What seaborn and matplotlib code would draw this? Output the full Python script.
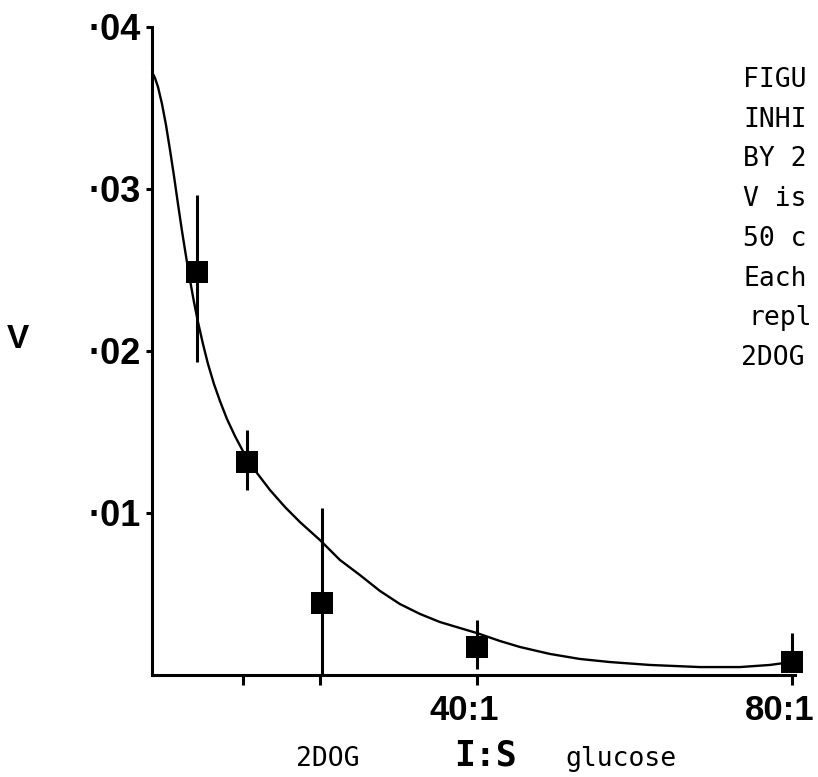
import matplotlib
matplotlib.use("Agg")
import matplotlib.pyplot as plt
import seaborn as sns
import pandas as pd

# Measured points (I:S ratio position, V) with asymmetric error bars
ratio = [5.6, 11.9, 21.25, 40.6, 80.0]
v_mean = [0.0249, 0.01315, 0.00444, 0.00173, 0.0008]
v_low = [0.0193, 0.0114, 0.0, 0.0004, 0.0002]
v_high = [0.0296, 0.0151, 0.0103, 0.0034, 0.0026]

# Hand-drawn fitted curve
curve_x = [0.0, 0.375, 0.75, 1.25, 1.75, 2.25, 2.75, 3.25, 3.75, 4.25, 4.75,
           5.25, 5.75, 6.375, 7.0, 7.75, 8.5, 9.375, 10.375, 11.625, 13.125,
           14.75, 16.625, 18.5, 21.0, 23.5, 26.0, 28.5, 31.0, 33.5, 36.0,
           38.5, 40.625, 43.5, 46.0, 49.75, 53.5, 57.25, 62.25, 68.5, 73.5,
           77.25, 80.0]
curve_y = [0.03722, 0.03685, 0.0363, 0.03525, 0.03395, 0.03241, 0.0308,
           0.02907, 0.02741, 0.02586, 0.02438, 0.02302, 0.02179, 0.02043,
           0.0192, 0.01796, 0.01691, 0.0158, 0.01475, 0.01358, 0.01247,
           0.01142, 0.01037, 0.00944, 0.00833, 0.0071, 0.00617, 0.00519,
           0.00438, 0.00377, 0.00327, 0.0029, 0.00259, 0.0021, 0.00173,
           0.0013, 0.00099, 0.0008, 0.00062, 0.00049, 0.00049, 0.00062,
           0.0008]

ytick_pos = [0.01, 0.02, 0.03, 0.04]
ytick_labels = ["·01", "·02", "·03", "·04"]
xtick_pos = [11.4, 21.0, 40.6, 80.0]
xtick_labels = ["", "", "40:1", "80:1"]

caption_lines = ["FIGU", "INHI", "BY 2", "V is", "50 c", "Each", "repl", "2DOG"]

sns.set_theme(style="ticks")
plt.rcParams["font.family"] = ["Liberation Sans", "DejaVu Sans"]
plt.rcParams["text.color"] = "black"
plt.rcParams["xtick.color"] = "black"
plt.rcParams["ytick.color"] = "black"

W, H = 818, 777
fig = plt.figure(figsize=(W / 100, H / 100), dpi=100)
fig.patch.set_facecolor("white")
ax = fig.add_axes([152 / W, 1 - 675 / H, (795 - 152) / W, (675 - 27) / H])
ax.set_facecolor("white")

df_curve = pd.DataFrame({"ratio": curve_x, "v": curve_y})
sns.lineplot(data=df_curve, x="ratio", y="v", sort=False, estimator=None,
             color="black", linewidth=1.7, ax=ax, clip_on=False,
             solid_joinstyle="round")

ax.vlines(ratio, v_low, v_high, color="black", linewidth=2.2, clip_on=False)

df_pts = pd.DataFrame({"ratio": ratio, "v": v_mean})
sns.scatterplot(data=df_pts, x="ratio", y="v", marker="s", s=16 ** 2,
                color="black", edgecolor="black", linewidth=0, ax=ax,
                clip_on=False, zorder=4)

ax.set_xlim(0, 80.4)
ax.set_ylim(0, 0.04)
sns.despine(ax=ax)
for side in ["left", "bottom"]:
    ax.spines[side].set_linewidth(2.2)
    ax.spines[side].set_color("black")

ax.set_yticks(ytick_pos)
ax.set_yticklabels(ytick_labels, fontsize=26, fontweight="bold")
ax.tick_params(axis="y", direction="out", length=4, width=2.2, pad=4,
               color="black", labelcolor="black")
ax.set_xticks(xtick_pos)
ax.set_xticklabels([""] * len(xtick_pos))
ax.tick_params(axis="x", direction="out", length=7, width=2.2,
               color="black")

for pos, lab in zip(xtick_pos, xtick_labels):
    if lab:
        ax.annotate(lab, xy=(pos, 0), xycoords=("data", "axes fraction"),
                    xytext=(-12, -35), textcoords="offset pixels",
                    ha="center", va="center", fontsize=25,
                    fontweight="bold", annotation_clip=False)

ax.set_xlabel("")
ax.set_ylabel("")

# axis titles
fig.text(18 / W, 1 - 340 / H, "V", fontsize=24, fontweight="bold",
         ha="center", va="center")
fig.text(485 / W, 1 - 755 / H, "I:S", fontsize=25, fontweight="bold",
         family="DejaVu Sans Mono", ha="center", va="center")
fig.text(328 / W, 1 - 766 / H, "2DOG", fontsize=19,
         family="DejaVu Sans Mono", ha="center", va="baseline")
fig.text(565 / W, 1 - 766 / H, "glucose", fontsize=19,
         family="DejaVu Sans Mono", ha="left", va="baseline")

# caption (only the part inside the frame of the original scan)
cap_x = [743, 743, 743, 743, 743, 743, 748, 741]
for i, line in enumerate(caption_lines):
    fig.text(cap_x[i] / W, 1 - (80 + 39.7 * i) / H, line, fontsize=19,
             family="DejaVu Sans Mono", ha="left", va="center")

fig.savefig("out.png", dpi=100, facecolor="white")
